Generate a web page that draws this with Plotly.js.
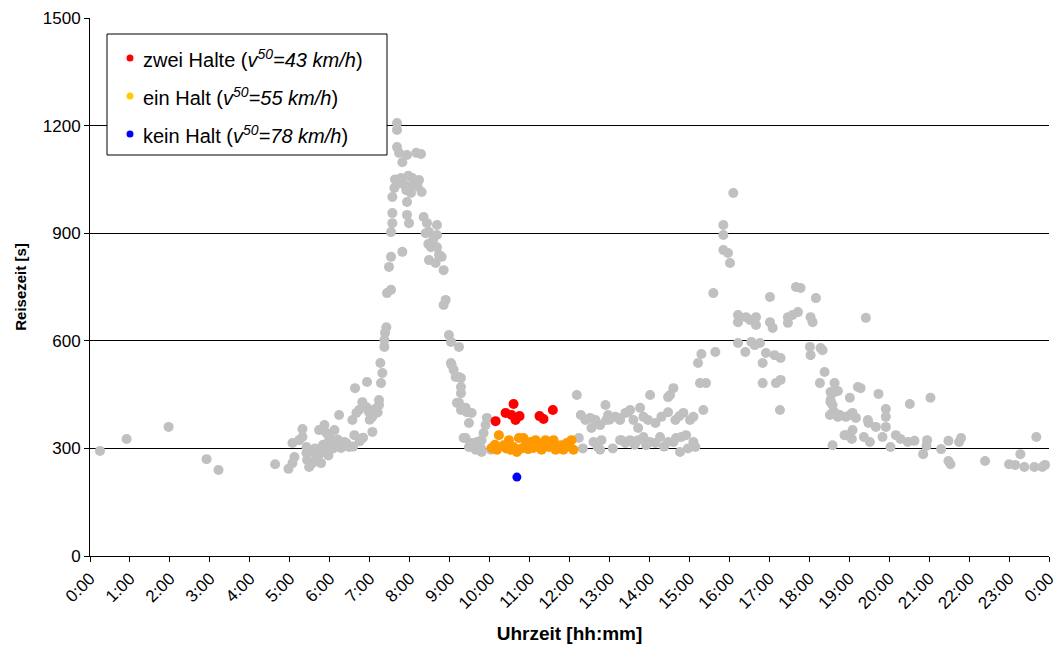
<!DOCTYPE html>
<html>
<head>
<meta charset="utf-8">
<script src="https://cdn.plot.ly/plotly-3.0.1.min.js"></script>
<style>html,body{margin:0;padding:0;background:#fff;} #chart{width:1057px;height:646px;}</style>
</head>
<body>
<div id="chart"></div>
<script>
// Travel time measurements (Reisezeit in s) by time of day (Uhrzeit hh:mm)
const grayTime = [
"0:15","0:55","1:58","2:55","3:13","4:38","4:58","5:04","5:07","5:04","5:19","5:19","5:14","5:25","5:25","5:26","5:29","5:34","5:40","5:47",
"5:44","5:52","5:55","5:59","5:56","6:07","6:10","6:14","6:17","6:25","6:29","6:37","6:34","6:40","6:44","6:49","6:55","6:59","7:04","7:10",
"7:14","7:14","7:04","6:38","6:56","7:17","7:19","7:16","7:22","7:23",
"5:35","5:50","6:05","6:20","6:35","6:45","6:50","7:00","7:05","7:08","7:12","6:00","5:58","6:03","5:38","5:45","6:12","6:22",
"7:41","7:41","7:41","7:44","7:49","7:56","8:10","8:17","7:41","7:47","8:04","8:14","7:37","7:55","8:18","7:34","7:56","7:34","7:56","7:34",
"7:59","7:32","8:21","8:26","8:29","8:41","8:41","8:32","8:41","8:29","8:39","8:48","8:51","7:32","7:29","7:49","7:26","7:32","8:54","8:51",
"7:25","7:22","8:59","9:02","9:14","9:02","9:06","9:09","9:17","9:17","9:17","9:11","9:17","9:26","9:33","9:29","9:56","9:54","9:24","9:29",
"9:39","9:48","10:02","9:03","9:14","9:14","9:24","9:21","9:33","9:41","9:47","9:48","9:51","9:39",
"7:45","7:52","8:00","8:07","8:12","7:38","7:58","8:02","8:24","8:35","8:44","8:28",
"12:11","12:17","12:24","12:14","12:36","12:46","12:48","12:54","12:58","13:13","13:18","13:28","12:31","12:39","12:33","12:46","12:55","13:09","13:16","13:24",
"13:31","13:36","13:46","13:43","13:51","13:58","14:01","14:09","14:18","14:28","14:31","14:36","14:39","14:51","15:01","15:06","15:16","15:25","15:21","13:16",
"13:24","13:31","13:43","13:51","13:55","14:01","14:09","14:16","14:28","14:36","14:46","14:40","14:48","14:55","15:06","15:09","14:28",
"12:20","12:42","13:05","13:38","14:22","14:58","13:00","14:45",
"16:06","15:51","15:51","15:51","15:58","16:01","15:36","16:13","16:13","16:25","16:31","16:40","16:40","17:01","17:01","17:05","17:28","17:28","17:35","17:43",
"17:40","17:47","18:10","18:02","18:05","16:13","16:24","16:33","16:38","16:46","16:55","17:08","17:17","16:50","18:01","18:02","18:20","18:23","18:16","16:50",
"17:10","17:17","17:16","15:39","15:18","15:13","18:38","18:38","18:32","19:01","18:35","18:43","18:55","19:05","18:53","18:35","19:13","19:25","18:17","18:32",
"18:43","18:32","18:35","18:31","18:38","18:46","19:01","19:05","19:10","19:17","19:44","19:28","19:29","19:40","18:55","19:04","19:22","19:31","19:50","19:55",
"19:55","19:55","20:02","20:10","20:17","20:28","20:38","20:31","21:02","20:57","20:56","20:51","21:18","21:29","21:45","21:48","21:29","21:32","22:24","23:00",
"23:09","23:17","23:23","23:41","23:38","23:50","23:54"
];
const grayValue = [
293,326,360,270,240,256,243,259,276,315,354,332,323,304,287,268,248,259,276,259,
351,365,343,323,301,351,315,393,301,315,304,337,379,399,407,429,415,401,388,407,
435,421,346,468,485,482,510,538,602,622,
290,310,300,310,305,320,330,380,395,410,400,330,280,305,300,285,325,318,
1207,1188,1140,1124,1098,1118,1124,1121,1048,1054,1054,1048,1026,1020,1015,1001,987,956,951,928,
928,903,945,928,903,923,895,861,861,825,817,834,797,834,806,848,733,742,714,700,
638,583,616,597,583,538,519,499,496,471,454,427,407,401,399,371,385,365,329,304,
315,323,296,533,499,427,413,329,315,318,301,290,343,296,
1040,1035,1030,1040,1030,1050,1060,1012,900,880,840,870,
449,393,379,329,318,296,323,421,393,385,323,401,385,379,357,365,379,388,379,399,
407,379,413,357,388,379,449,371,388,401,449,468,379,399,379,388,482,482,407,323,
315,323,323,332,309,318,315,332,318,318,290,329,332,337,318,304,443,
300,305,300,310,305,300,380,390,
1012,923,895,853,845,817,733,672,652,666,658,666,644,722,652,636,666,650,672,680,
750,747,719,666,652,594,569,597,588,594,566,560,552,538,583,560,574,513,482,482,
482,491,407,569,563,538,482,457,435,441,399,388,388,351,337,309,471,664,580,457,
460,429,421,393,401,393,393,399,385,468,452,379,371,360,337,326,332,318,332,410,
388,360,304,337,326,318,321,424,441,323,307,284,298,321,318,329,265,256,265,256,
254,284,248,332,248,248,254
];
const zweiTime  = ["10:09","10:24","10:33","10:36","10:39","10:45","11:15","11:21","11:35"];
const zweiValue = [376,399,393,424,379,390,390,382,407];
const einTime  = ["10:14","10:03","10:11","10:21","10:29","10:32","10:41","10:44","10:51","10:54","11:02","11:06","11:14","11:18","11:24","11:29","11:36","11:39","11:47","11:51",
"11:56","12:03","12:06","10:36","11:09","10:08","10:48","11:20","11:44","12:00","10:25","11:33","10:58"];
const einValue = [337,301,296,309,323,296,290,329,329,309,318,301,309,296,323,304,323,296,309,296,
315,323,296,304,323,310,300,315,300,305,300,310,298];
const keinTime  = ["10:41"];
const keinValue = [220];

const hourTicks = [0,1,2,3,4,5,6,7,8,9,10,11,12,13,14,15,16,17,18,19,20,21,22,23,24];
const hourLabels = ["0:00","1:00","2:00","3:00","4:00","5:00","6:00","7:00","8:00","9:00","10:00","11:00","12:00",
"13:00","14:00","15:00","16:00","17:00","18:00","19:00","20:00","21:00","22:00","23:00","0:00"];
const yTicks = [0,300,600,900,1200,1500];
const legendNames = [
  "zwei Halte (<i>v<sup>50</sup>=43 km/h</i>)",
  "ein Halt (<i>v<sup>50</sup>=55 km/h</i>)",
  "kein Halt (<i>v<sup>50</sup>=78 km/h</i>)"
];
const legendColors = ["#FF0000","#FFCC00","#0000FF"];

function toHours(s){ const p = s.split(":"); return Number(p[0]) + Number(p[1])/60; }

const FONT = "Liberation Sans, Arial, sans-serif";
const traces = [
  {x: grayTime.map(toHours), y: grayValue, type:"scatter", mode:"markers", showlegend:false,
   marker:{color:"#C0C0C0", size:10}, cliponaxis:false},
  {x: einTime.map(toHours), y: einValue, type:"scatter", mode:"markers", showlegend:false,
   marker:{color:"#FF9900", size:10}},
  {x: zweiTime.map(toHours), y: zweiValue, type:"scatter", mode:"markers", showlegend:false,
   marker:{color:"#FF0000", size:10}},
  {x: keinTime.map(toHours), y: keinValue, type:"scatter", mode:"markers", showlegend:false,
   marker:{color:"#0000FF", size:9}}
];

// manual legend box (paper coordinates)
const plotW = 1057 - 90 - 8, plotH = 646 - 18 - 90;
const px = v => (v - 90) / plotW, py = v => (646 - 90 - v) / plotH;
const shapes = [
  {type:"rect", xref:"paper", yref:"paper", x0:px(107), x1:px(387), y0:py(155), y1:py(34),
   line:{color:"#000", width:1}, fillcolor:"#fff", layer:"above"}
];
const annotations = [];
const rowPx = [58, 96, 134];
legendNames.forEach((n,i)=>{
  shapes.push({type:"circle", xref:"paper", yref:"paper", xsizemode:"pixel", ysizemode:"pixel",
    xanchor:px(130), yanchor:py(rowPx[i]), x0:-3.5, x1:3.5, y0:-3.5, y1:3.5,
    fillcolor:legendColors[i], line:{width:0}, layer:"above"});
  annotations.push({xref:"paper", yref:"paper", x:px(141), y:py(rowPx[i]), xanchor:"left", yanchor:"middle",
    text:n, showarrow:false, font:{family:FONT, size:20, color:"#000"}});
});

const layout = {
  width:1057, height:646,
  margin:{l:90, r:8, t:18, b:90, pad:0},
  paper_bgcolor:"#fff", plot_bgcolor:"#fff",
  font:{family:FONT, color:"#000"},
  showlegend:false,
  xaxis:{range:[0,24], tickvals:hourTicks, ticktext:hourLabels, tickangle:-45,
    ticklabeloverflow:"allow",
    showgrid:false, zeroline:false, showline:true, linecolor:"#000", linewidth:1,
    ticks:"outside", ticklen:5, tickcolor:"#000", tickfont:{family:FONT, size:17},
    title:{text:"<b>Uhrzeit [hh:mm]</b>", font:{family:FONT, size:19}, standoff:14}},
  yaxis:{range:[0,1500], tickvals:yTicks, showgrid:true, gridcolor:"#000", gridwidth:1,
    zeroline:false, showline:true, linecolor:"#000", linewidth:1,
    ticks:"outside", ticklen:5, tickcolor:"#000", tickfont:{family:FONT, size:17},
    title:{text:"<b>Reisezeit [s]</b>", font:{family:FONT, size:15}, standoff:12}},
  shapes: shapes,
  annotations: annotations
};
Plotly.newPlot("chart", traces, layout, {displayModeBar:false, staticPlot:true});
</script>
</body>
</html>
